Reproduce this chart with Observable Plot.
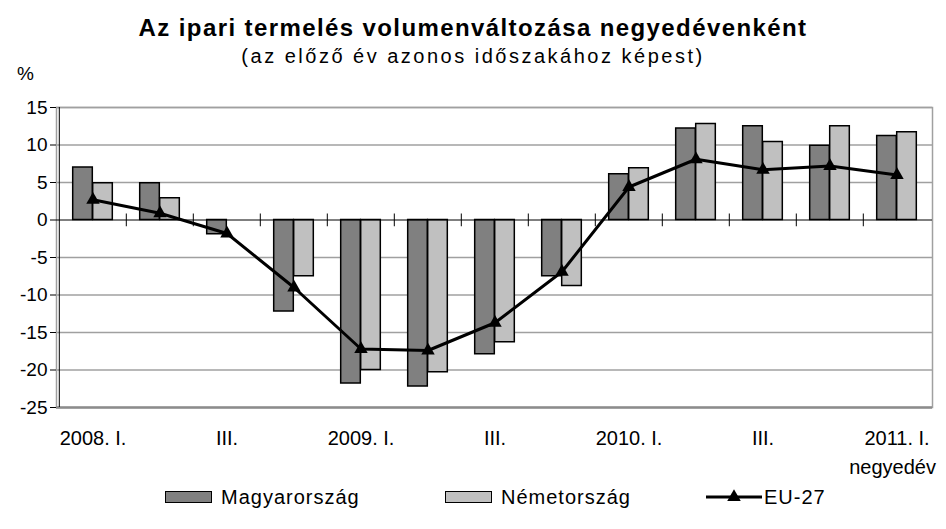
<!DOCTYPE html>
<html>
<head>
<meta charset="utf-8">
<script src="https://cdn.jsdelivr.net/npm/d3@7"></script>
<script src="https://cdn.jsdelivr.net/npm/@observablehq/plot@0.6"></script>
<style>
  html, body { margin: 0; padding: 0; background: #fff; }
  #wrap { position: relative; width: 946px; height: 529px; overflow: hidden;
          font-family: "Liberation Sans", Arial, sans-serif; color: #000; }
  #wrap svg { position: absolute; left: 0; top: 0; }
  .abs { position: absolute; white-space: nowrap; line-height: 1; }
  #title { left: 0; width: 946px; top: 16px; text-align: center; font-weight: bold; font-size: 24px; letter-spacing: 1.4px; }
  #subtitle { left: 0; width: 946px; top: 46px; text-align: center; font-size: 20px; letter-spacing: 2.5px; }
  #pct { left: 17px; top: 64px; font-size: 19px; }
  #unit { right: 10px; top: 457px; font-size: 20px; }
  #legend { left: 0; top: 486px; width: 946px; height: 22px; font-size: 20px; letter-spacing: 1px; }
  .item { position: absolute; top: 0; display: flex; align-items: center; height: 22px; }
  .sw { width: 47px; height: 12px; border: 1.5px solid #000; box-sizing: border-box; margin-right: 9px; }
</style>
</head>
<body>
<div id="wrap">
  <div id="title" class="abs">Az ipari termelés volumenváltozása negyedévenként</div>
  <div id="subtitle" class="abs">(az előző év azonos időszakához képest)</div>
  <div id="pct" class="abs">%</div>
  <div id="unit" class="abs">negyedév</div>
  <div id="legend" class="abs"></div>
</div>
<script>
// ---- data ----
const quarters = ["2008Q1","2008Q2","2008Q3","2008Q4","2009Q1","2009Q2","2009Q3","2009Q4","2010Q1","2010Q2","2010Q3","2010Q4","2011Q1"];
const tickLabels = ["2008. I.","","III.","","2009. I.","","III.","","2010. I.","","III.","","2011. I."];
const hungary = [7.0, 4.9, -1.9, -12.2, -21.8, -22.2, -17.9, -7.5, 6.1, 12.2, 12.5, 9.9, 11.2];
const germany = [4.9, 2.9, 0.0, -7.5, -20.0, -20.3, -16.3, -8.8, 6.9, 12.8, 10.4, 12.5, 11.7];
const eu27 = [2.7, 0.9, -1.8, -9.0, -17.2, -17.4, -13.7, -6.9, 4.4, 8.1, 6.7, 7.2, 6.0];
const yTicks = [-25, -20, -15, -10, -5, 0, 5, 10, 15];
const seriesNames = ["Magyarország", "Németország", "EU-27"];
const seriesColors = ["#808080", "#c0c0c0", "#000000"];

// ---- layout ----
const W = 946, H = 529, mL = 56, mR = 14, mT = 107, mB = 122;
const bw = (W - mL - mR) / quarters.length;
const barW = 20;

const rowsH = quarters.map((q, i) => ({q, v: hungary[i]}));
const rowsG = quarters.map((q, i) => ({q, v: germany[i]}));
const rowsE = quarters.map((q, i) => ({q, v: eu27[i]}));

const chart = Plot.plot({
  width: W, height: H,
  marginLeft: mL, marginRight: mR, marginTop: mT, marginBottom: mB,
  style: {fontFamily: "'Liberation Sans', Arial, sans-serif", fontSize: "19px", color: "#000", background: "transparent", overflow: "visible"},
  x: {type: "band", domain: quarters, padding: 0, axis: null},
  y: {domain: [-25, 15], axis: null},
  marks: [
    Plot.ruleY(yTicks.filter(d => d !== 0 && d !== -25), {stroke: "#a0a0a0", strokeWidth: 1.5}),
    Plot.frame({stroke: "#a0a0a0", strokeWidth: 1.5}),
    Plot.ruleY([-25], {stroke: "#8c8c8c", strokeWidth: 2.5}),
    Plot.barY(rowsH, {x: "q", y: "v", fill: seriesColors[0], stroke: "#000", strokeWidth: 1.5, insetLeft: bw / 2 - barW, insetRight: bw / 2}),
    Plot.barY(rowsG, {x: "q", y: "v", fill: seriesColors[1], stroke: "#000", strokeWidth: 1.5, insetLeft: bw / 2, insetRight: bw / 2 - barW}),
    Plot.ruleY([0], {stroke: "#000", strokeWidth: 1}),
    Plot.ruleX(quarters.slice(1), {x: d => d, y1: -0.9, y2: 0.8, dx: -bw / 2, stroke: "#000", strokeWidth: 1}),
    Plot.ruleX([quarters[0]], {x: d => d, dx: -bw / 2, stroke: "#000", strokeWidth: 1}),
    Plot.axisY(yTicks, {tickSize: 6, tickPadding: 3, fontSize: 19, label: null, tickFormat: d => String(d), stroke: "#000"}),
    Plot.axisX({tickSize: 0, tickPadding: 23, fontSize: 20, label: null, tickFormat: d => tickLabels[quarters.indexOf(d)]}),
    Plot.line(rowsE, {x: "q", y: "v", stroke: "#000", strokeWidth: 3}),
    Plot.dot(rowsE, {x: "q", y: "v", symbol: "triangle", r: 5, fill: "#000", stroke: "none"})
  ]
});
document.getElementById("wrap").prepend(chart);

// ---- legend ----
const legend = document.getElementById("legend");
const legendX = [165, 445, 706];
seriesNames.forEach((name, i) => {
  const item = document.createElement("div");
  item.className = "item";
  item.style.left = legendX[i] + "px";
  if (i < 2) {
    const sw = document.createElement("div");
    sw.className = "sw";
    sw.style.background = seriesColors[i];
    item.appendChild(sw);
  } else {
    const s = d3.create("svg").attr("width", 56).attr("height", 22).style("position", "static").style("margin-right", "2px");
    s.append("line").attr("x1", 0).attr("x2", 56).attr("y1", 11).attr("y2", 11).attr("stroke", "#000").attr("stroke-width", 3);
    s.append("path").attr("d", d3.symbol(d3.symbolTriangle, 80)()).attr("transform", "translate(28,11)").attr("fill", "#000");
    item.appendChild(s.node());
  }
  const t = document.createElement("span");
  t.textContent = name;
  item.appendChild(t);
  legend.appendChild(item);
});
</script>
</body>
</html>
